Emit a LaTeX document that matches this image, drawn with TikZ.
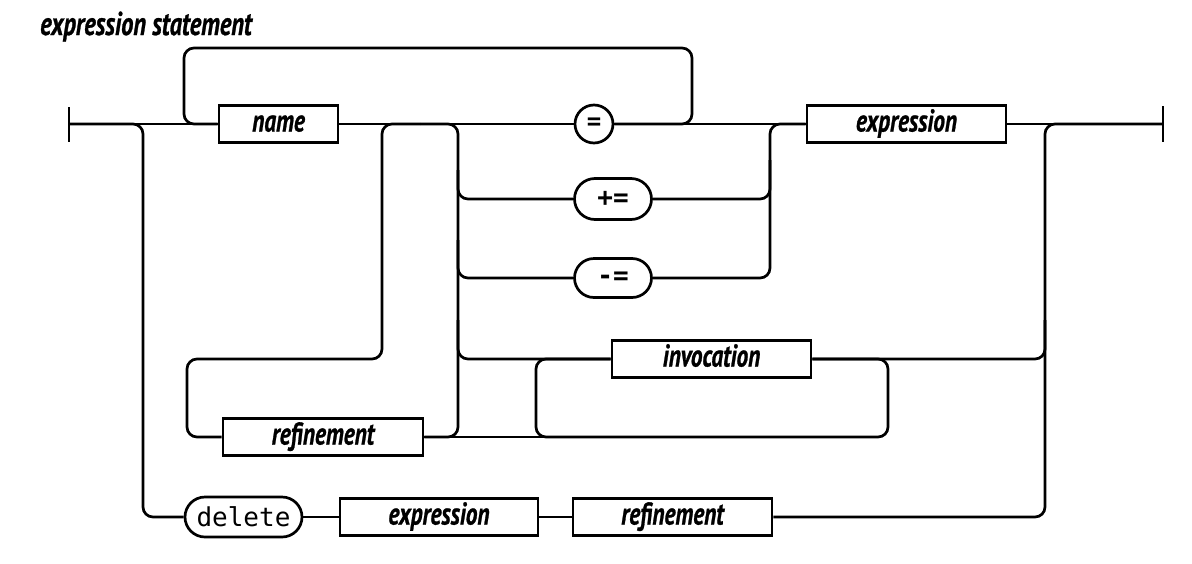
\documentclass[tikz,border=0pt]{standalone}
\usepackage{fontspec}
\usetikzlibrary{shapes.misc,calc}
\newfontfamily\railfont[FakeStretch=0.74,FakeBold=0.8]{PT Sans}
\newfontfamily\railmono{DejaVu Sans Mono}
\begin{document}
\begin{tikzpicture}[x=1pt,y=-1pt,
  rail/.style={line width=2.7pt, rounded corners=10pt},
  nt/.style={draw, line width=2.7pt, rectangle, minimum height=37pt, inner sep=0pt,
    font=\railfont\bfseries\itshape\fontsize{31.5}{34}\selectfont, text height=21pt, text depth=6pt},
  tm/.style={draw, line width=2.7pt, rounded rectangle, inner sep=0pt,
    font=\railmono\bfseries\fontsize{26}{30}\selectfont},
  bar/.style={line width=2.7pt}
]
\useasboundingbox (0,0) rectangle (1192,563);

\node[anchor=base west, inner sep=0pt, font=\railfont\bfseries\itshape\fontsize{33}{36}\selectfont] (title) at (40,35) {expression statement};

\coordinate (S) at (69,124);
\coordinate (E) at (1163,124);
\coordinate (mid) at (420,124);

\node[nt, minimum width=119pt] (name) at (278.5,124) {name};
\node[draw, circle, line width=2.7pt, minimum size=38pt, inner sep=0pt,
  font=\railmono\bfseries\fontsize{24}{28}\selectfont] (eq) at (594,124) {=};
\node[nt, minimum width=199pt] (expr) at (906.5,124) {expression};
\node[tm, minimum width=77pt, minimum height=41pt] (pe) at (613,199) {+=};
\node[tm, minimum width=77pt, minimum height=39pt] (me) at (613,278) {-=};
\node[nt, minimum width=199pt] (inv) at (711.5,359) {invocation};
\node[nt, minimum width=200pt] (ref1) at (323,437) {refinement};
\node[tm, font=\railmono\fontsize{26}{30}\selectfont, minimum width=117pt, minimum height=40pt] (del) at (243.5,517) {delete};
\node[nt, minimum width=198pt] (expr2) at (439,517) {expression};
\node[nt, minimum width=199pt] (ref2) at (672.5,517) {refinement};

% end bars
\draw[bar] ($(S)+(0,-17)$) -- ($(S)+(0,18)$);
\draw[bar] ($(E)+(0,-18)$) -- ($(E)+(0,18)$);

% main line
\draw[rail] (S) -- (name.west);
\draw[rail] (name.east) -- (eq.west);
\draw[rail] (eq.east) -- (expr.west);
\draw[rail] (expr.east) -- (E);

% loop back over name
\draw[rail] (eq.east) -| (692,48) -| (184,124) -- (name.west);

% delete branch
\draw[rail] (S) -| (143,517) -- (del.west);
\draw[rail] (del.east) -- (expr2.west);
\draw[rail] (expr2.east) -- (ref2.west);
\draw[rail] (ref2.east) -| (1045,124) -- (E);

% refinement loop
\draw[rail] (mid) -| (382,359) -| (187,437) -- (ref1.west);
\draw[rail] (ref1.east) -| (458,124) -- (mid);

% operator branches
\draw[rail] (458,170) |- (pe.west);
\draw[rail] (458,240) |- (me.west);
\draw[rail] (458,320) |- (inv.west);
\draw[rail] (pe.east) -| (770,124) -- (expr.west);
\draw[rail] (me.east) -| (770,160);

% invocation
\draw[rail] (inv.east) -| (1045,320);
\draw[rail] (inv.east) -| (888,437) -| (536,359) -- (inv.west);
\draw[rail] (ref1.east) -- (560,437);
\end{tikzpicture}
\end{document}
